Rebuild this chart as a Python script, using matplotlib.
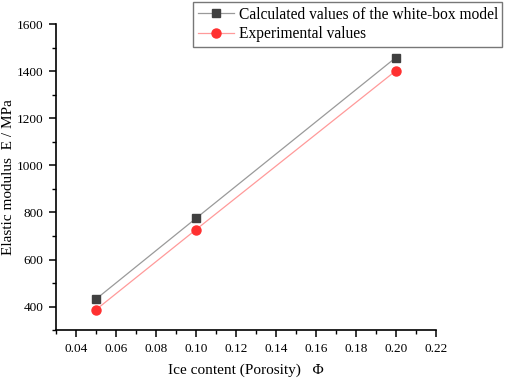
import matplotlib
matplotlib.use("Agg")
import matplotlib.pyplot as plt
from matplotlib.ticker import MultipleLocator

# datos
ice_content = [0.05, 0.10, 0.20]
calc_values = [432, 775, 1458]
exp_values = [387, 727, 1402]

x_ticks = [0.04, 0.06, 0.08, 0.10, 0.12, 0.14, 0.16, 0.18, 0.20, 0.22]
x_tick_labels = ["0.04", "0.06", "0.08", "0.10", "0.12", "0.14",
                 "0.16", "0.18", "0.20", "0.22"]
y_ticks = [400, 600, 800, 1000, 1200, 1400, 1600]

plt.rcParams['font.family'] = ['Liberation Serif', 'DejaVu Serif']

fig = plt.figure(figsize=(5.05, 3.83), dpi=100)
ax = fig.add_axes([0.111, 0.138, 0.752, 0.799])

ax.plot(ice_content, calc_values, color="#9a9a9a", lw=0.9,
        marker="s", ms=6, mfc="#404040", mec="#404040",
        label="Calculated values of the white-box model")
ax.plot(ice_content, exp_values, color="#ff9a9a", lw=0.9,
        marker="o", ms=6.5, mfc="#ff3030", mec="#ff3030",
        label="Experimental values")

ax.set_xlim(0.03, 0.22)
ax.set_ylim(300, 1600)
ax.xaxis.set_minor_locator(MultipleLocator(0.01))
ax.yaxis.set_minor_locator(MultipleLocator(100))
ax.set_xticks(x_ticks)
ax.set_xticklabels(x_tick_labels)
ax.set_yticks(y_ticks)

for s in ["top", "right"]:
    ax.spines[s].set_visible(False)
for s in ["left", "bottom"]:
    ax.spines[s].set_linewidth(1.2)

ax.tick_params(which="major", direction="out", length=5, width=1.1,
               labelsize=9.5, pad=4)
ax.tick_params(which="minor", direction="out", length=3, width=1.0)

ax.set_xlabel("Ice content (Porosity)   \u03a6", fontsize=11)
ax.set_ylabel("Elastic modulus  E / MPa", fontsize=11)
ax.xaxis.set_label_coords(0.5, -0.108)
ax.yaxis.set_label_coords(-0.108, 0.5)

leg = ax.legend(loc="upper right", bbox_to_anchor=(0.995, 0.995),
                bbox_transform=fig.transFigure, fontsize=11.2,
                frameon=True, fancybox=False, borderpad=0.3,
                handlelength=2.3, handletextpad=0.3, labelspacing=0.25,
                borderaxespad=0)
leg.get_frame().set_edgecolor("#555555")
leg.get_frame().set_linewidth(1.0)

fig.savefig("out.png", dpi=100)
